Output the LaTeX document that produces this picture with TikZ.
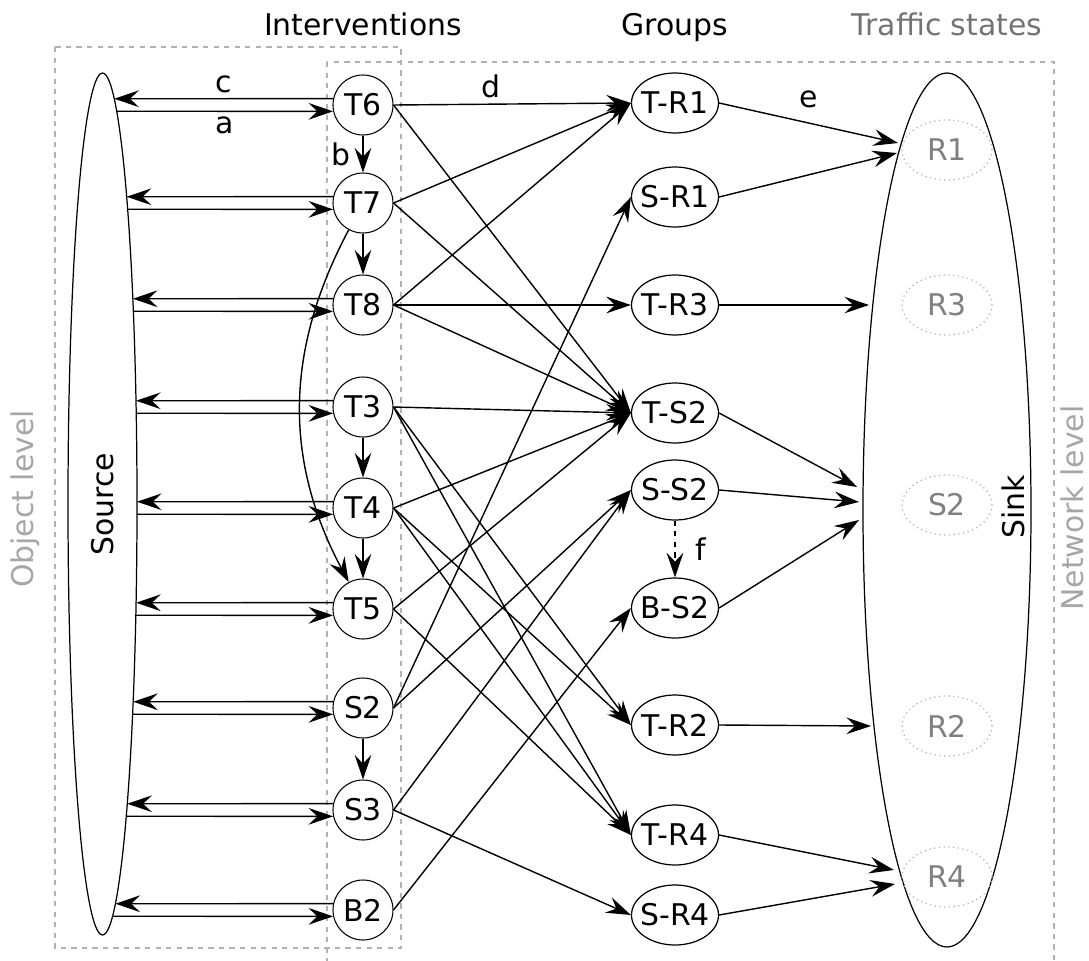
\documentclass[tikz,border=0pt]{standalone}
\usepackage{fontspec}
\setmainfont{DejaVu Sans}
\usetikzlibrary{arrows.meta, shapes.geometric}

\begin{document}
\begin{tikzpicture}[
    >={Stealth[length=14pt, width=9.5pt, inset=5pt]},
    font=\fontsize{17pt}{20pt}\selectfont,
    arrow/.style={->, line width=0.8pt},
    intv/.style={circle, draw, line width=0.6pt, minimum size=1.2cm, inner sep=1pt},
    grp/.style={ellipse, draw, line width=0.7pt, minimum width=1.74cm, minimum height=1.2cm, inner xsep=-2.5pt},
    tstate/.style={ellipse, draw=gray!60, dotted, line width=0.7pt, text=black!50, minimum width=1.8cm, minimum height=1.2cm},
    boxframe/.style={draw=gray!60, dashed, line width=0.7pt},
    sidelabel/.style={text=black!35, rotate=90},
    title/.style={anchor=base},
    lbl/.style={inner sep=3pt}
]

\useasboundingbox (0,0) rectangle (21.78,-19.22);

% ===== Frames =====
\draw[boxframe] (1.1,-0.94) rectangle (8.02,-18.96);
\draw[boxframe] (6.54,-1.24) rectangle (21.08,-19.4);

% ===== Titles =====
\node[title] (tint) at (7.26,-0.70) {Interventions};
\node[title] (tgrp) at (13.5,-0.70) {Groups};
\node[title, text=black!55] (tts) at (18.94,-0.70) {Traffic states};
\node[sidelabel] (lobj) at (0.5,-9.98) {Object level};
\node[sidelabel] (lnet) at (21.44,-10.16) {Network level};

% ===== Source and sink =====
\node[ellipse, draw, line width=0.7pt, rotate=90, minimum width=17.24cm, minimum height=1.38cm] (src) at (2.05,-10.08) {Source};
\node[ellipse, draw, line width=0.7pt, minimum width=3.36cm, minimum height=17.48cm] (sink) at (18.94,-10.2) {};
\node[rotate=90] (lsink) at (20.26,-10.14) {Sink};

% Traffic states
\foreach \n/\y in {R1/-3.0, R3/-6.1, S2/-10.1, R2/-14.52, R4/-17.54}
    \node[tstate] (st\n) at (18.94,\y) {\n};

% Interventions
\foreach \n/\y in {T6/-2.10, T7/-4.06, T8/-6.10, T3/-8.14, T4/-10.16, T5/-12.18, S2/-14.16, S3/-16.20, B2/-18.20}
    \node[intv] (\n) at (7.26,\y) {\n};

% Groups
\foreach \n/\t/\y in {TR1/T-R1/-2.06, SR1/S-R1/-3.94, TR3/T-R3/-6.10, TS2/T-S2/-8.26, SS2/S-S2/-9.80, BS2/B-S2/-12.16, TR2/T-R2/-14.50, TR4/T-R4/-16.70, SR4/S-R4/-18.30}
    \node[grp] (\n) at (13.5,\y) {\t};

% Source <-> interventions
\foreach \n/\y in {T6/-2.10, T7/-4.06, T8/-6.10, T3/-8.14, T4/-10.16, T5/-12.18, S2/-14.16, S3/-16.20, B2/-18.20} {
    \pgfmathsetmacro\du{(\y+0.125+10.08)/8.62}
    \pgfmathsetmacro\dl{(\y-0.125+10.08)/8.62}
    \pgfmathsetmacro\xu{2.05+0.69*sqrt(1-(\du)*(\du))}
    \pgfmathsetmacro\xl{2.05+0.69*sqrt(1-(\dl)*(\dl))}
    \coordinate (\n-out) at (\xu,\y+0.125);
    \coordinate (\n-in) at (\xl,\y-0.125);
    \draw[arrow] (\n.168) -- (\n-out);
    \draw[arrow] (\n-in) -- (\n.192);
}
\path (T6.168) -- (T6-out) node[lbl, midway, above] (lc) {c};
\path (T6-in) -- (T6.192) node[lbl, midway, below] (la) {a};

% Within interventions
\draw[arrow] (T6) -- node[lbl, left=4pt] (lb) {b} (T7);
\draw[arrow] (T7) -- (T8);
\draw[arrow] (T3) -- (T4);
\draw[arrow] (T4) -- (T5);
\draw[arrow] (S2) -- (S3);
\draw[arrow] (T7) to[bend right=28] (T5);

% Interventions -> groups
\draw[arrow] (T6.east) -- node[lbl, pos=0.41, above] (ld) {d} (TR1.west);
\foreach \a/\b in {T6/TS2, T7/TR1, T7/TS2, T8/TR1, T8/TR3, T8/TS2, T3/TS2, T3/TR2, T3/TR4, T4/TS2, T4/TR2, T4/TR4, T5/TS2, T5/TR4, S2/SR1, S2/SS2, S3/SS2, S3/SR4, B2/BS2}
    \draw[arrow] (\a.east) -- (\b.west);

\draw[arrow, dashed] (SS2) -- node[lbl, right=8pt] (lf) {f} (BS2);

% Groups -> sink
\coordinate (eR1a) at (17.96,-2.86);
\coordinate (eR1b) at (17.94,-3.06);
\coordinate (eR3) at (17.38,-6.10);
\coordinate (eS2a) at (17.14,-9.74);
\coordinate (eS2b) at (17.18,-10.04);
\coordinate (eS2c) at (17.18,-10.40);
\coordinate (eR2) at (17.42,-14.52);
\coordinate (eR4a) at (17.88,-17.40);
\coordinate (eR4b) at (17.90,-17.68);

\draw[arrow] (TR1.east) -- node[lbl, above=5pt] (le) {e} (eR1a);
\foreach \a/\b in {SR1/eR1b, TR3/eR3, TS2/eS2a, SS2/eS2b, BS2/eS2c, TR2/eR2, TR4/eR4a, SR4/eR4b}
    \draw[arrow] (\a.east) -- (\b);

\end{tikzpicture}
\end{document}
